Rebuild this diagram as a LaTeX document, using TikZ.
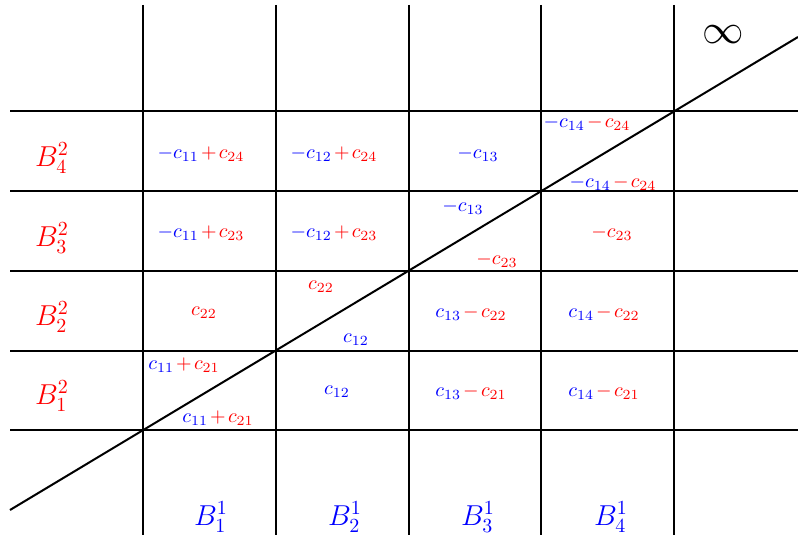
\documentclass[tikz,border=0pt]{standalone}
\usepackage{xcolor}
\begin{document}
\medmuskip=2mu plus 1mu minus 1mu
\begin{tikzpicture}[x=0.5pt,y=-0.5pt,
  gridline/.style={line width=1pt},
  diag/.style={line width=1pt},
  lab/.style={inner sep=0pt,font=\normalsize},
  blabel/.style={inner sep=0pt,font=\Large}]
\useasboundingbox (0,0) rectangle (798,535);
% vertical lines
\foreach \x in {143,276,409,541,674} \draw[gridline] (\x,5) -- (\x,535);
% horizontal lines
\foreach \y in {111,191,271,351,430} \draw[gridline] (10,\y) -- (798,\y);
% diagonal
\coordinate (dstart) at (10,510);
\coordinate (dend) at (798,37);
\draw[diag] (dstart) -- (dend);
% infinity
\node[inner sep=0pt,font=\huge] (inf) at (723,35) {$\infty$};
% row labels
\node[blabel,red] (b42) at (52,158) {$B_4^2$};
\node[blabel,red] (b32) at (52,238) {$B_3^2$};
\node[blabel,red] (b22) at (52,317) {$B_2^2$};
\node[blabel,red] (b12) at (52,396) {$B_1^2$};
% column labels
\node[blabel,blue] (b11) at (211,517) {$B_1^1$};
\node[blabel,blue] (b21) at (345,517) {$B_2^1$};
\node[blabel,blue] (b31) at (478,517) {$B_3^1$};
\node[blabel,blue] (b41) at (611,517) {$B_4^1$};
% row 4
\node[lab] (r4a) at (201,154) {$\textcolor{blue}{-c_{11}}\mathbin{\textcolor{red}{+}}\textcolor{red}{c_{24}}$};
\node[lab] (r4b) at (334,154) {$\textcolor{blue}{-c_{12}}\mathbin{\textcolor{red}{+}}\textcolor{red}{c_{24}}$};
\node[lab] (r4c) at (478,154) {$\textcolor{blue}{-c_{13}}$};
\node[lab] (r4d) at (587,123) {$\textcolor{blue}{-c_{14}}\mathbin{\textcolor{red}{-}}\textcolor{red}{c_{24}}$};
\node[lab] (r4e) at (613,183) {$\textcolor{blue}{-c_{14}}\mathbin{\textcolor{red}{-}}\textcolor{red}{c_{24}}$};
% row 3
\node[lab] (r3a) at (201,233) {$\textcolor{blue}{-c_{11}}\mathbin{\textcolor{red}{+}}\textcolor{red}{c_{23}}$};
\node[lab] (r3b) at (334,233) {$\textcolor{blue}{-c_{12}}\mathbin{\textcolor{red}{+}}\textcolor{red}{c_{23}}$};
\node[lab] (r3c) at (463,207) {$\textcolor{blue}{-c_{13}}$};
\node[lab] (r3d) at (497,260) {$\textcolor{red}{-c_{23}}$};
\node[lab] (r3e) at (612,233) {$\textcolor{red}{-c_{23}}$};
% row 2
\node[lab] (r2a) at (204,313) {$\textcolor{red}{c_{22}}$};
\node[lab] (r2b) at (321,287) {$\textcolor{red}{c_{22}}$};
\node[lab] (r2c) at (356,340) {$\textcolor{blue}{c_{12}}$};
\node[lab] (r2d) at (471,313) {$\textcolor{blue}{c_{13}}\mathbin{\textcolor{red}{-}}\textcolor{red}{c_{22}}$};
\node[lab] (r2e) at (604,313) {$\textcolor{blue}{c_{14}}\mathbin{\textcolor{red}{-}}\textcolor{red}{c_{22}}$};
% row 1
\node[lab] (r1a) at (184,365) {$\textcolor{blue}{c_{11}}\mathbin{\textcolor{red}{+}}\textcolor{red}{c_{21}}$};
\node[lab] (r1b) at (218,418) {$\textcolor{blue}{c_{11}}\mathbin{\textcolor{red}{+}}\textcolor{red}{c_{21}}$};
\node[lab] (r1c) at (337,392) {$\textcolor{blue}{c_{12}}$};
\node[lab] (r1d) at (471,392) {$\textcolor{blue}{c_{13}}\mathbin{\textcolor{red}{-}}\textcolor{red}{c_{21}}$};
\node[lab] (r1e) at (604,392) {$\textcolor{blue}{c_{14}}\mathbin{\textcolor{red}{-}}\textcolor{red}{c_{21}}$};
\end{tikzpicture}
\end{document}
